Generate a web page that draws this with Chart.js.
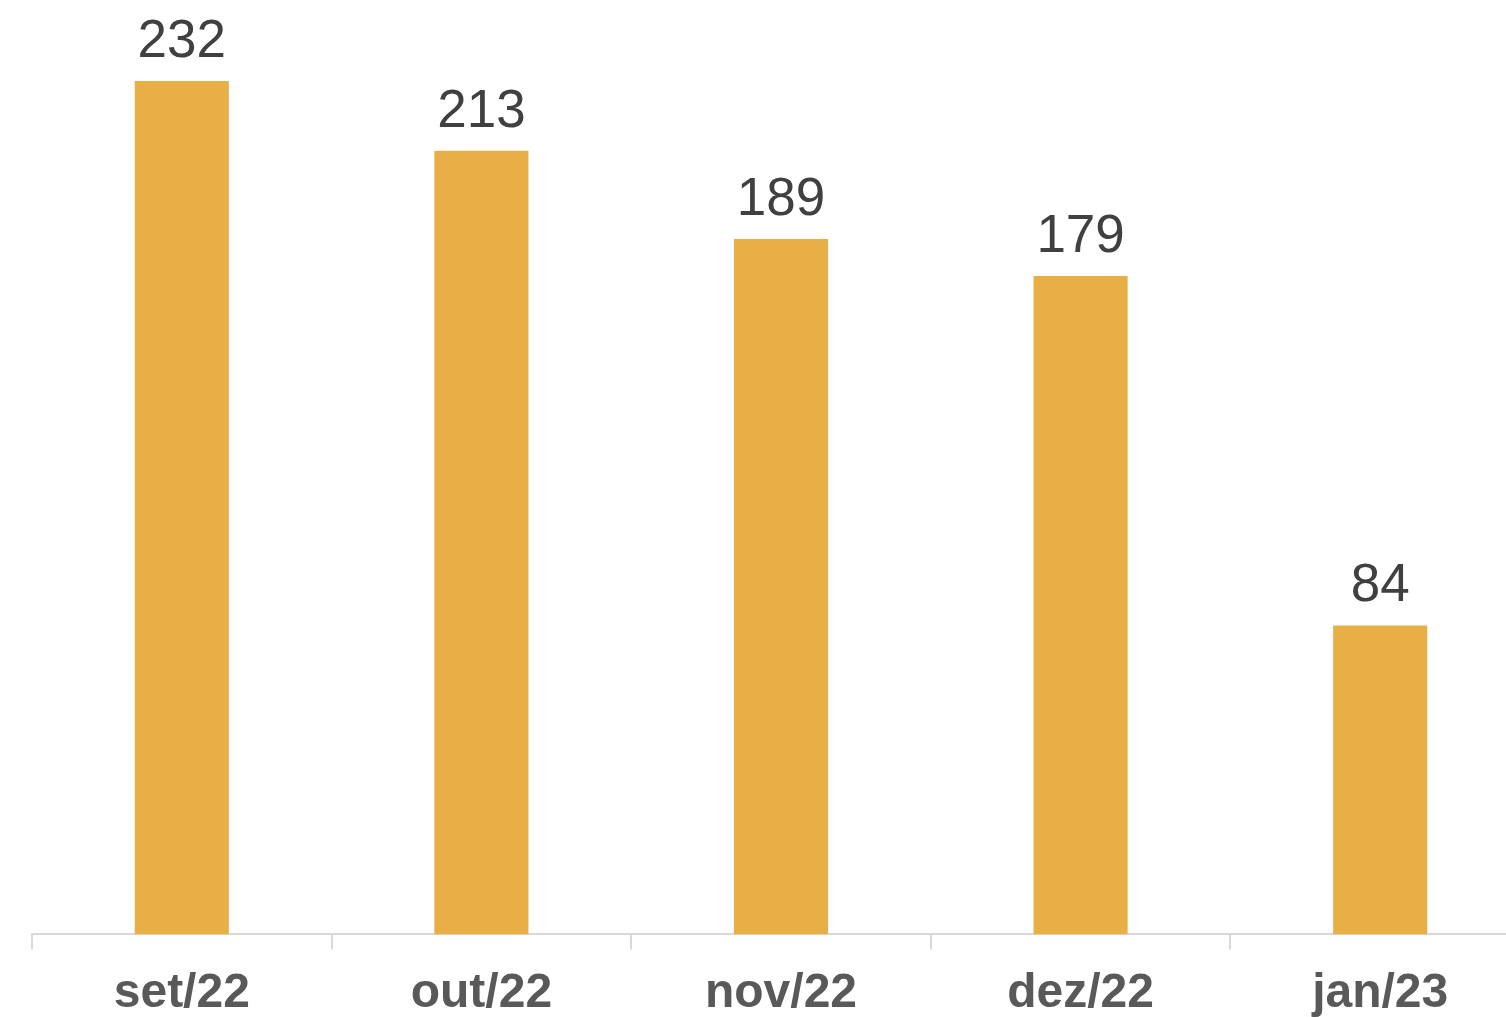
<!DOCTYPE html>
<html>
<head>
<meta charset="utf-8">
<script src="https://cdn.jsdelivr.net/npm/chart.js@4.4.0/dist/chart.umd.min.js"></script>
<style>
  html, body { margin: 0; padding: 0; background: #fff; overflow: hidden; }
  #wrap { width: 1530px; height: 1017px; }
</style>
</head>
<body>
<div id="wrap"><canvas id="barChart" width="1530" height="1017"></canvas></div>
<script>
// months and values
const months = ['set/22', 'out/22', 'nov/22', 'dez/22', 'jan/23'];
const counts = [232, 213, 189, 179, 84];

const barColor = '#E9AF47';
const axisColor = '#D9D9D9';

// draws the number above each bar
const valueLabels = {
    id: 'valueLabels',
    afterDatasetsDraw(chart) {
        const ctx = chart.ctx;
        const meta = chart.getDatasetMeta(0);
        ctx.save();
        ctx.font = '53px "Liberation Sans", Arial, sans-serif';
        ctx.fillStyle = '#404040';
        ctx.textAlign = 'center';
        ctx.textBaseline = 'alphabetic';
        meta.data.forEach(function (bar, i) {
            ctx.fillText(String(counts[i]), bar.x, bar.y - 24);
        });
        ctx.restore();
    }
};

const ctx = document.getElementById('barChart');
const myChart = new Chart(ctx, {
    type: 'bar',
    data: {
        labels: months,
        datasets: [{
            data: counts,
            backgroundColor: barColor,
            borderWidth: 0,
            categoryPercentage: 1,
            barPercentage: 0.314
        }]
    },
    options: {
        responsive: false,
        animation: false,
        devicePixelRatio: 1,
        layout: { padding: { left: 32, right: 0, top: 0, bottom: -22 } },
        plugins: {
            legend: { display: false },
            tooltip: { enabled: false }
        },
        scales: {
            y: {
                display: false,
                min: 0,
                max: 254
            },
            x: {
                grid: {
                    display: true,
                    drawOnChartArea: false,
                    tickLength: 15,
                    color: axisColor,
                    lineWidth: 2
                },
                border: { display: true, color: axisColor, width: 2 },
                ticks: {
                    color: '#595959',
                    padding: 16,
                    font: { family: '"Liberation Sans", Arial, sans-serif', size: 48, weight: 'bold' }
                }
            }
        }
    },
    plugins: [valueLabels]
});
</script>
</body>
</html>
